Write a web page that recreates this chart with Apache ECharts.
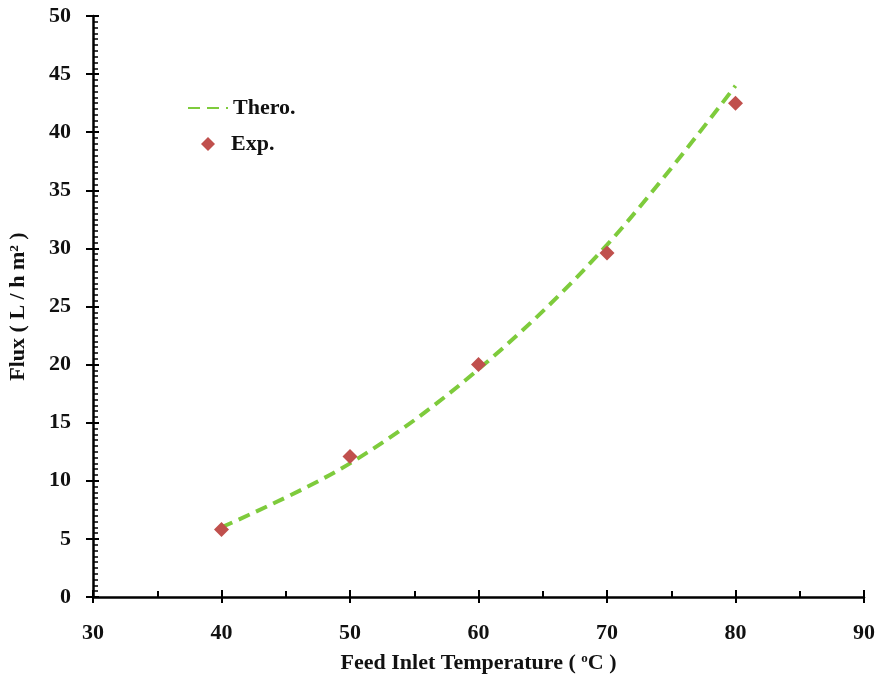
<!DOCTYPE html>
<html>
<head>
<meta charset="utf-8">
<script src="https://cdn.jsdelivr.net/npm/echarts@6/dist/echarts.min.js"></script>
<style>
  html, body {margin: 0; padding: 0; background: #fff;}
  #chart {width: 882px; height: 676px;}
</style>
</head>
<body>
<div id="chart"></div>
<script>
const temps = [40, 50, 60, 70, 80]
const theroFlux = [6.0, 11.5, 19.6, 30.3, 44.0]
const expFlux = [5.8, 12.1, 20.0, 29.6, 42.5]

const font = 'Liberation Serif'
const lbl = {fontFamily: font, fontWeight: 'bold', fontSize: 22, color: '#111'}
const chart = echarts.init(document.getElementById('chart'))

// second axis of each pair only draws the inner ticks, so major ticks cross the line
chart.setOption({
    animation: false,
    textStyle: {fontFamily: font},
    grid: {left: 93, right: 18, top: 16, bottom: 79, outerBoundsMode: 'none'},
    legend: [
        {
            left: 182,
            top: 92,
            itemWidth: 40,
            itemHeight: 12,
            textStyle: lbl,
            data: [{name: 'Thero.', itemStyle: {opacity: 0}}]
        },
        {
            left: 196,
            top: 128,
            itemWidth: 14,
            itemHeight: 14,
            textStyle: Object.assign({padding: [0, 0, 0, 11]}, lbl),
            data: ['Exp.']
        }
    ],
    xAxis: [
        {
            type: 'value',
            min: 30,
            max: 90,
            interval: 10,
            splitLine: {show: false},
            axisLine: {onZero: false, lineStyle: {color: '#000', width: 2.5}},
            axisTick: {length: 6, lineStyle: {color: '#000', width: 2}},
            axisLabel: Object.assign({margin: 25}, lbl),
            name: '{a|Feed Inlet Temperature ( }{s|o}{a|C )}',
            nameLocation: 'middle',
            nameGap: 55,
            nameTextStyle: {
                rich: {
                    a: lbl,
                    s: {fontFamily: font, fontWeight: 'bold', fontSize: 13, color: '#111', verticalAlign: 'top', padding: [0, 0, 9, 0]}
                }
            }
        },
        {
            type: 'value',
            position: 'bottom',
            min: 30,
            max: 90,
            interval: 10,
            splitLine: {show: false},
            axisLine: {show: false, onZero: false},
            axisLabel: {show: false},
            axisTick: {inside: true, length: 7, lineStyle: {color: '#000', width: 2}},
            minorTick: {show: true, splitNumber: 2, length: 6, lineStyle: {color: '#000', width: 2}}
        }
    ],
    yAxis: [
        {
            type: 'value',
            min: 0,
            max: 50,
            interval: 5,
            splitLine: {show: false},
            axisLine: {lineStyle: {color: '#000', width: 2.5}},
            axisTick: {length: 7, lineStyle: {color: '#000', width: 2}},
            axisLabel: Object.assign({margin: 22}, lbl),
            name: 'Flux ( L / h m² )',
            nameLocation: 'middle',
            nameGap: 64,
            nameTextStyle: lbl
        },
        {
            type: 'value',
            position: 'left',
            min: 0,
            max: 50,
            interval: 5,
            splitLine: {show: false},
            axisLine: {show: false},
            axisLabel: {show: false},
            axisTick: {inside: true, length: 6, lineStyle: {color: '#000', width: 2}},
            minorTick: {show: true, splitNumber: 10, length: 5, lineStyle: {color: '#000', width: 1.5}}
        }
    ],
    series: [
        {
            name: 'Thero.',
            type: 'line',
            data: temps.map((t, i) => [t, theroFlux[i]]),
            smooth: 0.35,
            showSymbol: false,
            symbol: 'none',
            lineStyle: {color: '#7ECB3C', width: 4, type: [12, 7]},
            itemStyle: {color: '#7ECB3C'},
            z: 2
        },
        {
            name: 'Exp.',
            type: 'scatter',
            data: temps.map((t, i) => [t, expFlux[i]]),
            symbol: 'diamond',
            symbolSize: 15,
            itemStyle: {color: '#C0504D', opacity: 1},
            z: 3
        }
    ]
})
</script>
</body>
</html>
